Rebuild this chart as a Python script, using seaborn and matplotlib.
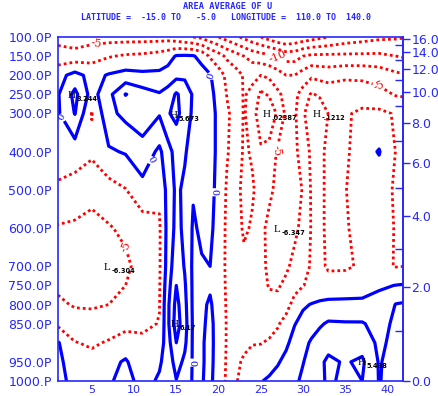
import numpy as np
import matplotlib
matplotlib.use("Agg")
import matplotlib.pyplot as plt
import seaborn as sns

# ---------------- data ----------------
days = [1, 3, 5, 7, 9, 11, 13, 14, 15, 16, 17, 18, 19, 20, 21, 22, 23, 24, 25, 26,
        27, 28, 29, 30, 31, 32, 33, 35, 37, 39, 41, 43]
pressure = [100, 150, 200, 250, 300, 400, 500, 600, 700, 750, 800, 850, 900, 950, 1000]

u100 = [-5.8, -6.5, -6.0, -6.0, -6.0, -6.0, -6.0, -6.0, -6.5, -7.0, -7.5, -8.0, -9.0,
        -10.0, -11.0, -12.0, -13.0, -14.0, -15.0, -16.0, -17.0, -17.5, -17.0, -16.5, -16.0, -15.5, -15.0,
        -14.0, -13.5, -13.0, -12.8, -12.5]
u150 = [-4.0, -4.0, -3.5, -2.7, -2.2, -2.0, -1.5, -1.0, 0.2, 0.3, 0.2, -0.8, -2.8,
        -4.0, -5.5, -6.5, -7.5, -8.5, -9.0, -9.5, -10.0, -11.0, -11.0, -10.0, -9.5, -9.5, -9.5,
        -9.5, -9.5, -9.5, -10.0, -10.5]
u200 = [-0.8, 0.8, -0.8, 0.2, 0.8, 0.5, 0.5, 1.0, 1.8, 2.0, 1.5, 1.0, 0.2,
        -1.5, -3.0, -4.0, -5.2, -5.5, -5.0, -5.5, -6.5, -7.5, -7.5, -6.5, -5.5, -5.8, -6.0,
        -5.5, -5.5, -6.0, -7.0, -7.6]
u250 = [-0.2, 3.2, -1.0, 1.8, 5.1, 3.6, 2.7, 3.5, 5.3, 4.0, 2.2, 1.8, 0.6,
        -0.8, -2.6, -3.5, -5.2, -4.5, -2.0, -2.8, -4.5, -5.8, -5.6, -4.0, -2.2, -3.0, -3.5,
        -3.5, -3.8, -4.2, -5.2, -5.3]
u300 = [-0.3, 2.6, -2.6, 1.8, 3.2, 4.0, 2.7, 4.8, 5.6, 4.0, 2.0, 1.8, 0.8,
        -0.5, -2.2, -3.2, -5.2, -4.0, -0.5, -0.3, -3.0, -5.5, -5.4, -3.0, -0.5, -0.3, -2.6,
        -2.8, -2.0, -2.0, -2.7, -3.8]
u400 = [-1.0, -1.3, -2.0, -0.3, 0.2, 1.5, -0.5, 1.5, 3.5, 2.8, 1.2, 1.2, 0.8,
        -0.5, -2.3, -3.5, -5.3, -4.8, -3.0, -3.5, -5.3, -5.6, -5.5, -4.0, -2.0, -2.0, -3.0,
        -3.0, -1.0, 0.15, -2.6, -3.0]
u500 = [-3.0, -3.5, -4.4, -3.5, -2.6, -0.8, -2.0, 0.8, 3.0, 2.0, 0.2, 0.8, 0.6,
        -0.6, -2.8, -4.2, -5.6, -5.2, -4.3, -4.6, -5.5, -6.0, -5.6, -4.9, -2.2, -2.0, -3.0,
        -2.6, -1.2, -1.5, -2.8, -3.0]
u600 = [-5.2, -5.4, -5.6, -5.2, -4.5, -3.8, -2.8, 0.8, 3.2, 2.0, -0.3, 0.4, 0.4,
        -0.8, -3.0, -4.0, -5.3, -4.8, -4.5, -5.5, -6.3, -6.0, -5.4, -4.5, -2.3, -2.0, -3.0,
        -2.8, -1.4, -1.2, -2.7, -3.0]
u700 = [-5.3, -5.8, -6.0, -6.3, -5.5, -4.0, -2.8, 1.0, 4.2, 2.3, -0.5, -0.2, 0.0,
        -1.0, -3.0, -4.0, -4.5, -4.2, -4.6, -5.3, -5.6, -5.3, -4.5, -3.5, -2.2, -2.0, -2.8,
        -2.8, -2.2, -2.0, -2.6, -2.4]
u750 = [-5.4, -5.7, -5.8, -5.8, -5.0, -4.2, -2.7, 1.5, 5.0, 2.8, -0.5, -0.4, -0.2,
        -1.0, -2.9, -3.8, -4.2, -4.0, -4.5, -5.1, -5.2, -4.6, -3.5, -2.6, -1.8, -1.6, -1.6,
        -1.4, -1.0, -0.3, 0.05, 0.3]
u800 = [-4.6, -5.2, -5.3, -5.0, -4.5, -3.8, -2.6, 2.0, 5.8, 3.2, -0.5, -0.3, 0.2,
        -0.8, -2.8, -3.6, -3.8, -3.6, -4.2, -4.6, -4.5, -3.5, -1.5, -0.3, 0.1, 0.4, 0.6,
        0.6, 0.5, 0.8, 2.6, 3.0]
u850 = [-3.0, -4.0, -4.0, -3.6, -3.5, -3.0, -2.4, 2.0, 6.2, 3.5, -0.4, -0.3, 0.4,
        -0.7, -2.7, -3.4, -3.5, -3.2, -3.6, -3.5, -2.8, -1.5, -0.1, 0.7, 1.5, 2.2, 2.8,
        2.7, 2.7, 1.6, 3.0, 3.4]
u900 = [0.2, -2.4, -2.8, -2.3, -1.0, -2.0, -1.5, 1.5, 5.0, 3.0, -0.4, -0.2, 0.5,
        -0.8, -2.7, -3.2, -3.0, -2.6, -2.6, -2.2, -1.5, -0.4, 0.8, 1.8, 2.8, 3.6, 4.3,
        3.5, 4.0, 2.0, 3.2, 3.5]
u950 = [0.8, -1.8, -1.8, -0.5, 0.2, -1.2, -0.3, 1.0, 3.5, 2.0, -0.3, -0.2, 0.5,
        -0.9, -2.8, -3.0, -2.2, -1.8, -1.2, -0.8, -0.2, 0.6, 1.5, 2.4, 3.5, 4.6, 5.4,
        4.8, 5.4, 2.3, 3.5, 3.6]
u1000 = [1.5, -1.5, -1.2, -0.3, 0.8, -0.8, 0.3, 0.5, 2.4, 1.5, -0.3, -0.1, 0.4,
         -1.0, -2.9, -2.8, -1.5, -0.8, -0.1, 0.3, 0.8, 1.4, 2.0, 3.0, 3.8, 4.6, 5.3,
         4.6, 5.0, 2.4, 3.3, 3.5]

neg_levels = [-20, -17.5, -15, -12.5, -7.5, -2.5]   # unlabelled easterly contours
pos_levels = [2.5, 5]                                # unlabelled westerly contours

x_ticks = [5, 10, 15, 20, 25, 30, 35, 40]
p_ticks = [100, 150, 200, 250, 300, 400, 500, 600, 700, 750, 800, 850, 950, 1000]
p_tick_labels = ["100.0P", "150.0P", "200.0P", "250.0P", "300.0P", "400.0P", "500.0P",
                 "600.0P", "700.0P", "750.0P", "800.0P", "850.0P", "950.0P", "1000.P"]
z_ticks = [0, 2, 4, 6, 8, 10, 12, 14, 16]
z_tick_labels = ["0.0", "2.0", "4.0", "6.0", "8.0", "10.0", "12.0", "14.0", "16.0"]
z_minor = [1, 3, 5, 7, 9, 11, 13, 15]

ext_kind = ["H", "H", "H", "H", "L", "L", "H", "H"]
ext_day = [2.66, 14.7, 25.7, 31.65, 26.9, 6.8, 14.85, 36.9]
ext_p = [252, 306, 304, 304, 604, 704, 853, 952]
ext_text = ["3.244", "5.673", ".02387", "-.1212", "-6.347", "-6.304", "6.17", "5.438"]

lab0_pts = [(1.4, 312), (19.0, 202), (11.9, 421), (17.9, 505), (16.9, 952)]
lab5_pts = [(5.6, 129), (9.9, 644), (39.1, 220), (27.9, 403)]
lab10_pts = [(27.0, 152)]

title1 = "AREA AVERAGE OF U"
title2 = "LATITUDE =  -15.0 TO   -5.0   LONGITUDE =  110.0 TO  140.0"

# ---------------- style ----------------
sns.set_style("white")
plt.rcParams["font.family"] = ["DejaVu Sans"]
BLUE = "#2626ff"
RED = "#ff0000"
LBLUE = "#0000ff"
DOT = (0, (1.0, 1.1))

fig = plt.figure(figsize=(4.38, 3.96), dpi=100)
ax = fig.add_axes([58 / 438, 15 / 396, 345 / 438, 344 / 396])

U = np.array([u100, u150, u200, u250, u300, u400, u500, u600, u700,
              u750, u800, u850, u900, u950, u1000])

cs_neg = ax.contour(days, pressure, U, levels=neg_levels, colors=RED, linewidths=2.0)
cs_neg.set_linestyle(DOT)
cs_m5 = ax.contour(days, pressure, U, levels=[-5], colors=RED, linewidths=2.0)
cs_m5.set_linestyle(DOT)
cs_m10 = ax.contour(days, pressure, U, levels=[-10], colors=RED, linewidths=2.0)
cs_m10.set_linestyle(DOT)
cs_pos = ax.contour(days, pressure, U, levels=pos_levels, colors=LBLUE, linewidths=2.3)
cs_zero = ax.contour(days, pressure, U, levels=[0], colors=LBLUE, linewidths=2.3)
cs_zero.set_linestyle("solid")

for pts, col, cs, fs in [(lab0_pts, LBLUE, cs_zero, 7), (lab5_pts, RED, cs_m5, 8),
                         (lab10_pts, RED, cs_m10, 8)]:
    texts = cs.clabel(manual=pts, inline=True, inline_spacing=1,
                      fontsize=fs, fmt="%g", colors=col)
    for t in texts:
        t.set_family("DejaVu Serif")

for k, d, p, v in zip(ext_kind, ext_day, ext_p, ext_text):
    ax.text(d, p, k, ha="center", va="center", fontsize=8, family="Liberation Serif",
            color="black", zorder=5)
    ax.annotate(v, (d, p), xytext=(3.5, -2.5), textcoords="offset points",
                ha="left", va="center", fontsize=4.8, fontweight="bold",
                color="black", zorder=5)

ax.set_xlim(1, 41.83)
ax.set_ylim(1000, 100)
ax.set_xticks(x_ticks)
ax.set_xticklabels([str(v) for v in x_ticks])
ax.set_yticks(p_ticks)
ax.set_yticklabels(p_tick_labels)
ax.tick_params(axis="y", colors=BLUE, labelsize=9, length=4, width=1,
               direction="out", pad=0.5)
ax.tick_params(axis="x", colors=BLUE, labelsize=8, length=2.5, width=1,
               direction="out", pad=0.2)
for s in ax.spines.values():
    s.set_color(BLUE)
    s.set_linewidth(1.2)

H = 7.1
def p2z(p):
    p = np.clip(np.asarray(p, dtype=float), 1e-3, None)
    return H * np.log(1000.0 / p)

def z2p(z):
    return 1000.0 * np.exp(-np.asarray(z, dtype=float) / H)

sec = ax.secondary_yaxis("right", functions=(p2z, z2p))
sec.set_yticks(z_ticks)
sec.set_yticklabels(z_tick_labels)
sec.set_yticks(z_minor, minor=True)
sec.tick_params(axis="y", which="major", colors=BLUE, labelsize=9, length=5, width=1,
                direction="out", pad=1)
sec.tick_params(axis="y", which="minor", colors=BLUE, length=6, width=1, direction="in")
sec.spines["right"].set_color(BLUE)
sec.spines["right"].set_linewidth(1.2)

fig.text(0.52, 0.983, title1, ha="center", va="center", fontsize=6.2,
         family="DejaVu Sans Mono", fontweight="bold", color=BLUE)
fig.text(0.515, 0.955, title2, ha="center", va="center", fontsize=6.0,
         family="DejaVu Sans Mono", fontweight="bold", color=BLUE)

fig.savefig("out.png", dpi=100, facecolor="white")
